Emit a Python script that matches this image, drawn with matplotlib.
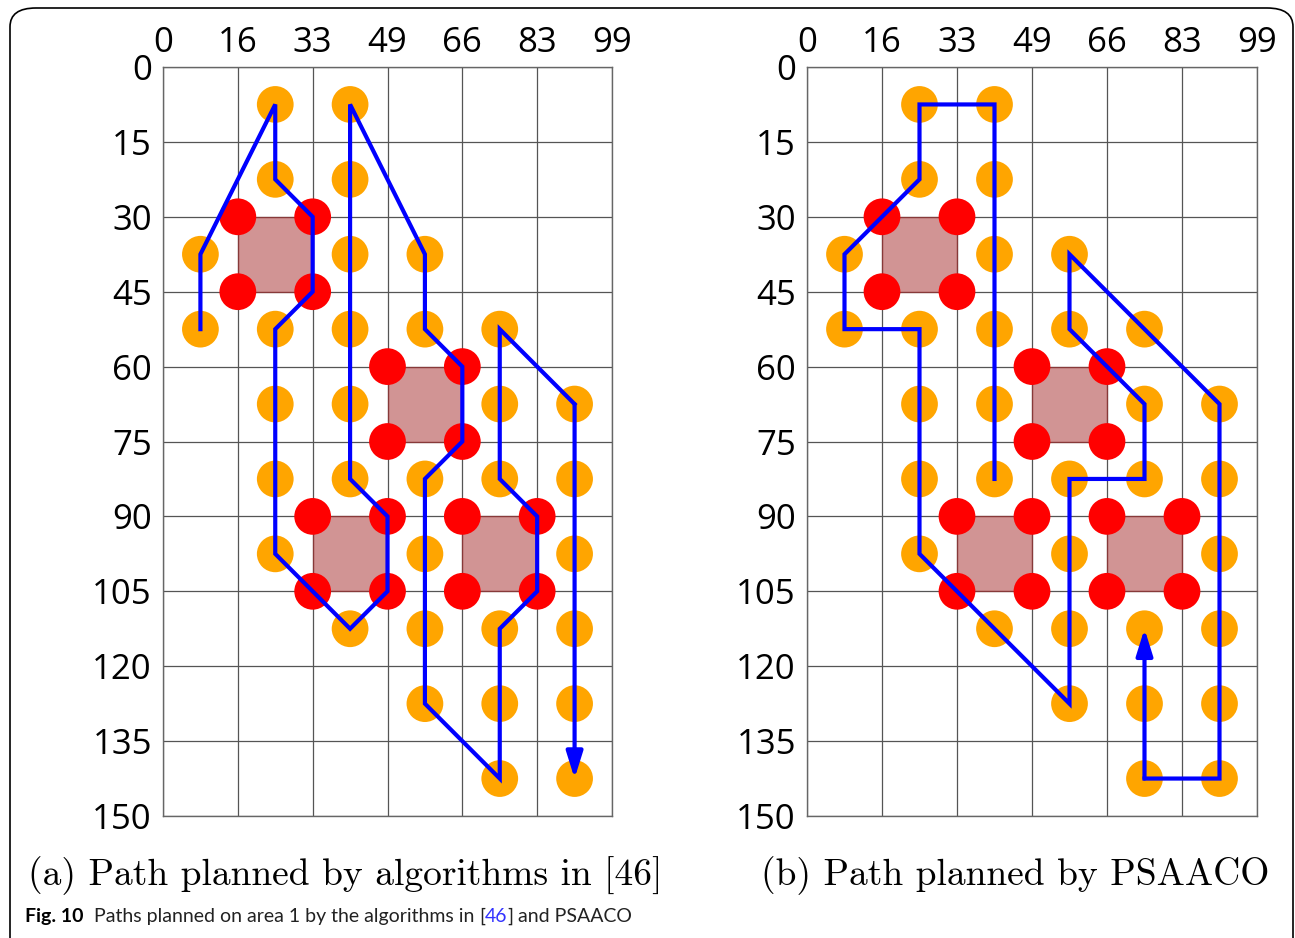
import matplotlib
matplotlib.use("Agg")
import matplotlib.pyplot as plt
from matplotlib.patches import Rectangle, FancyBboxPatch

plt.rcParams['font.family'] = ['Open Sans', 'DejaVu Sans']

# grid ticks
x_ticks = [0, 16.5, 33, 49.5, 66, 82.5, 99]
x_labels = ['0', '16', '33', '49', '66', '83', '99']
y_ticks = [0, 15, 30, 45, 60, 75, 90, 105, 120, 135, 150]

# task points (orange)
orange_x = [24.75, 41.25,
            24.75, 41.25,
            8.25, 41.25, 57.75,
            8.25, 24.75, 41.25, 57.75, 74.25,
            24.75, 41.25, 74.25, 90.75,
            24.75, 41.25, 57.75, 74.25, 90.75,
            24.75, 57.75, 90.75,
            41.25, 57.75, 74.25, 90.75,
            57.75, 74.25, 90.75,
            74.25, 90.75]
orange_y = [7.5, 7.5,
            22.5, 22.5,
            37.5, 37.5, 37.5,
            52.5, 52.5, 52.5, 52.5, 52.5,
            67.5, 67.5, 67.5, 67.5,
            82.5, 82.5, 82.5, 82.5, 82.5,
            97.5, 97.5, 97.5,
            112.5, 112.5, 112.5, 112.5,
            127.5, 127.5, 127.5,
            142.5, 142.5]

# obstacle corners (red)
red_x = [16.5, 33, 16.5, 33,
         49.5, 66, 49.5, 66,
         33, 49.5, 33, 49.5,
         66, 82.5, 66, 82.5]
red_y = [30, 30, 45, 45,
         60, 60, 75, 75,
         90, 90, 105, 105,
         90, 90, 105, 105]

# obstacles: corner x, y
obst_x = [16.5, 49.5, 33, 66]
obst_y = [30, 60, 90, 90]
cell_w = 16.5
cell_h = 15

# paths
path_a_x = [8.25, 8.25, 24.75, 24.75, 33, 33, 24.75, 24.75, 41.25, 49.5, 49.5,
            41.25, 41.25, 57.75, 57.75, 66, 66, 57.75, 57.75, 74.25, 74.25,
            82.5, 82.5, 74.25, 74.25, 90.75, 90.75]
path_a_y = [52.5, 37.5, 7.5, 22.5, 30, 45, 52.5, 97.5, 112.5, 105, 90,
            82.5, 7.5, 37.5, 52.5, 60, 75, 82.5, 127.5, 142.5, 112.5,
            105, 90, 82.5, 52.5, 67.5, 142.5]

path_b_x = [41.25, 41.25, 24.75, 24.75, 8.25, 8.25, 24.75, 24.75, 57.75, 57.75,
            74.25, 74.25, 57.75, 57.75, 90.75, 90.75, 74.25, 74.25]
path_b_y = [82.5, 7.5, 7.5, 22.5, 37.5, 52.5, 52.5, 97.5, 127.5, 82.5,
            82.5, 67.5, 52.5, 37.5, 67.5, 142.5, 142.5, 112.5]

fig = plt.figure(figsize=(12.95, 9.38), dpi=100)
W, H = 1295, 938

# outer rounded frame
frame = FancyBboxPatch((10 / W, -20 / H), 1283 / W, 950 / H,
                       boxstyle="round,pad=0,rounding_size=0.02",
                       transform=fig.transFigure, fill=False,
                       edgecolor='black', linewidth=1.2)
fig.patches.append(frame)


def draw_panel(ax, px, py):
    ax.set_xlim(0, 99)
    ax.set_ylim(150, 0)
    ax.set_xticks(x_ticks)
    ax.set_xticklabels(x_labels)
    ax.set_yticks(y_ticks)
    ax.xaxis.tick_top()
    ax.tick_params(length=0, labelsize=25)
    ax.tick_params(axis='x', pad=5)
    ax.tick_params(axis='y', pad=8)
    ax.grid(True, color='#555555', linewidth=0.9, zorder=0)
    ax.set_axisbelow(True)
    for sp in ax.spines.values():
        sp.set_color('#666666')
        sp.set_linewidth(1.0)

    for ox, oy in zip(obst_x, obst_y):
        ax.add_patch(Rectangle((ox, oy), cell_w, cell_h, facecolor='brown',
                               edgecolor='brown', alpha=0.5, zorder=2))
    ax.scatter(orange_x, orange_y, s=700, color='orange', edgecolors='none', zorder=3)
    ax.scatter(red_x, red_y, s=700, color='red', edgecolors='none', zorder=3)

    ax.plot(px[:-1], py[:-1], color='blue', linewidth=3, zorder=4,
            solid_joinstyle='miter')
    ax.annotate('', xy=(px[-1], py[-1]), xytext=(px[-2], py[-2]),
                arrowprops=dict(arrowstyle='-|>,head_length=0.8,head_width=0.25',
                                color='blue', lw=3, mutation_scale=20,
                                shrinkA=0, shrinkB=0), zorder=5)


ax1 = fig.add_axes([163 / W, 1 - 816 / H, 449 / W, 749 / H])
ax2 = fig.add_axes([807 / W, 1 - 816 / H, 450 / W, 749 / H])
draw_panel(ax1, path_a_x, path_a_y)
draw_panel(ax2, path_b_x, path_b_y)

# sub captions
fig.text(345 / W, 1 - 876 / H, '(a) Path planned by algorithms in [46]',
         family='cmr10', fontsize=27, ha='center', va='center')
fig.text(1015 / W, 1 - 876 / H, '(b) Path planned by PSAACO',
         family='cmr10', fontsize=27, ha='center', va='center')

# figure caption, drawn piece by piece
fig.canvas.draw()
renderer = fig.canvas.get_renderer()
pieces = [('Fig. 10', 'bold', 'black'),
          ('  Paths planned on area 1 by the algorithms in ', 'normal', '#222222'),
          ('[', 'normal', '#222222'),
          ('46', 'normal', '#3333ff'),
          (']', 'normal', '#222222'),
          (' and PSAACO', 'normal', '#222222')]
xpos = 25
for txt, wt, col in pieces:
    t = fig.text(xpos / W, 1 - 916 / H, txt, family='Lato',
                 fontsize=14, fontweight=wt, color=col, ha='left', va='center')
    bb = t.get_window_extent(renderer)
    xpos += bb.width

fig.savefig('out.png', dpi=100)
